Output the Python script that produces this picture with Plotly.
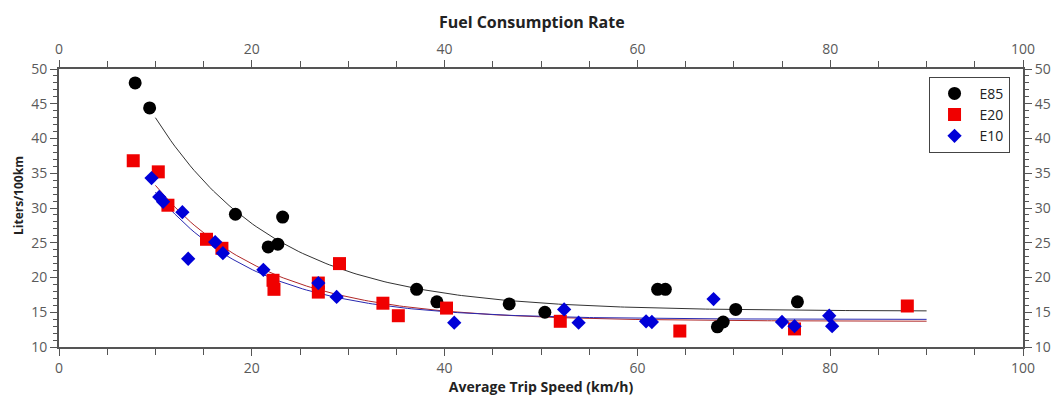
import numpy as np
import plotly.graph_objects as go

# ---- data ----
e85_speed = [7.9, 9.4, 18.3, 21.7, 22.7, 23.2, 37.1, 39.2, 46.7, 50.4, 62.1, 62.9, 68.3, 68.9, 70.2, 76.6]
e85_rate = [48.0, 44.4, 29.1, 24.4, 24.8, 28.7, 18.3, 16.5, 16.2, 15.0, 18.3, 18.3, 12.9, 13.6, 15.4, 16.5]

e20_speed = [7.7, 10.3, 11.3, 15.3, 16.9, 22.2, 22.3, 26.9, 26.9, 29.1, 33.6, 35.2, 40.2, 52.0, 64.4, 76.3, 88.0]
e20_rate = [36.8, 35.2, 30.4, 25.5, 24.2, 19.6, 18.3, 19.2, 17.9, 22.0, 16.3, 14.5, 15.6, 13.7, 12.3, 12.6, 15.9]

e10_speed = [9.6, 10.4, 10.8, 12.8, 13.4, 16.2, 17.0, 21.2, 26.9, 28.8, 41.0, 52.4, 53.9, 60.9, 61.5, 67.9, 75.0, 76.3, 79.9, 80.2]
e10_rate = [34.3, 31.6, 30.9, 29.4, 22.7, 25.1, 23.5, 21.1, 19.2, 17.2, 13.5, 15.4, 13.5, 13.7, 13.6, 16.9, 13.6, 13.0, 14.5, 13.0]

fit_x_start = 10
fit_x_end = 90

x_ticks = [0, 20, 40, 60, 80, 100]
y_ticks = [10, 15, 20, 25, 30, 35, 40, 45, 50]


def exp_fit(xs, ys):
    xs = np.asarray(xs, float)
    ys = np.asarray(ys, float)
    best = None
    for b in np.linspace(0.005, 0.4, 800):
        A = np.column_stack([np.exp(-b * xs), np.ones_like(xs)])
        coef, *_ = np.linalg.lstsq(A, ys, rcond=None)
        sse = float(np.sum((A @ coef - ys) ** 2))
        if best is None or sse < best[0]:
            best = (sse, b, coef)
    _, b, (a, c) = best
    xf = np.linspace(fit_x_start, fit_x_end, 200)
    return xf, a * np.exp(-b * xf) + c


fig = go.Figure()

series = [
    ("E85", e85_speed, e85_rate, "circle", 13, "#000000", "#333333"),
    ("E20", e20_speed, e20_rate, "square", 13, "#f00000", "#b02828"),
    ("E10", e10_speed, e10_rate, "diamond", 11, "#0000d8", "#2828b0"),
]

for name, xs, ys, sym, size, col, lcol in series:
    xf, yf = exp_fit(xs, ys)
    fig.add_trace(go.Scatter(x=xf, y=yf, mode="lines", line=dict(color=lcol, width=1),
                             showlegend=False, hoverinfo="skip"))

for name, xs, ys, sym, size, col, lcol in series:
    fig.add_trace(go.Scatter(x=xs, y=ys, mode="markers", name=name,
                             marker=dict(symbol=sym, size=size, color=col,
                                         line=dict(width=0))))

# invisible trace to anchor the secondary axes
fig.add_trace(go.Scatter(x=[0, 100], y=[10, 50], xaxis="x2", yaxis="y2", mode="markers",
                         marker=dict(opacity=0), showlegend=False, hoverinfo="skip"))

axis_col = "#555555"
tick_font = dict(family="Open Sans", size=14, color="#5a5a5a")

common_x = dict(range=[0, 100], tickvals=x_ticks, showgrid=False, zeroline=False,
                showline=True, linecolor=axis_col, linewidth=2, ticks="outside",
                ticklen=7, tickwidth=1, tickcolor=axis_col, tickfont=tick_font,
                automargin=False,
                minor=dict(dtick=5, ticks="outside", ticklen=6, tickcolor=axis_col, tickwidth=1))
common_y = dict(range=[10, 50], tickvals=y_ticks, showgrid=False, zeroline=False,
                showline=True, linecolor=axis_col, linewidth=2, ticks="outside",
                ticklen=7, tickwidth=1, tickcolor=axis_col, tickfont=tick_font,
                automargin=False,
                minor=dict(dtick=1, ticks="outside", ticklen=4, tickcolor=axis_col, tickwidth=1))

fig.update_layout(
    width=1053, height=401,
    margin=dict(l=59, r=30, t=69, b=54),
    paper_bgcolor="white", plot_bgcolor="white",
    font=dict(family="Open Sans", color="#222222"),
    title=dict(text="<b>Fuel Consumption Rate</b>", x=0.505, xanchor="center", y=0.945, yanchor="middle",
               font=dict(family="Open Sans", size=16, color="#222222")),
    xaxis=dict(**common_x, title=dict(text="<b>Average Trip Speed (km/h)</b>",
                                      font=dict(family="Open Sans", size=14, color="#222222"),
                                      standoff=4)),
    xaxis2=dict(**common_x, overlaying="x", side="top"),
    yaxis=dict(**common_y),
    yaxis2=dict(**common_y, overlaying="y", side="right"),
    legend=dict(x=0.902, y=0.972, xanchor="left", yanchor="top",
                bordercolor="#444444", borderwidth=1, bgcolor="white",
                font=dict(family="Open Sans", size=14, color="#222222"),
                itemwidth=40, tracegroupgap=0),
    showlegend=True,
    annotations=[dict(text="<b>Liters/100km</b>", textangle=-90, xref="paper", yref="paper",
                      x=-0.042, y=0.545, xanchor="center", yanchor="middle", showarrow=False,
                      font=dict(family="Open Sans", size=12, color="#222222"))],
)

fig.write_html("out.html")
